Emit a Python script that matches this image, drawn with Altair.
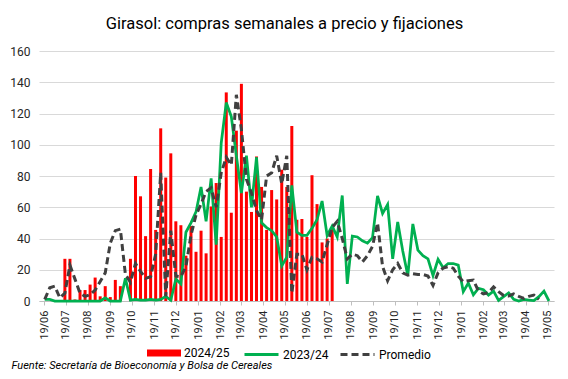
import altair as alt
import pandas as pd
from datetime import date, timedelta

# ---------------- data ----------------
series_names = ["2024/25", "2023/24", "Promedio"]
series_colors = ["#FF0000", "#00B050", "#404040"]

# weekly observations (week 0 = 20/06/2024)
first_week = date(2024, 6, 20)

# 2024/25 weekly purchases (bars), weeks 0..57
bars_2425 = [None, None, None, None, 27, 27, 1, 7, 7, 10.5,
             15, 3, 9.5, 2.5, 13.5, 9.5, 0, 27, 80, 67,
             41.5, 84.5, 45.5, 110.5, 79, 94.5, 51, 48.5, 29, 48,
             31.5, 45, 30.5, 60.5, 75.5, 41, 133.5, 56.5, 109, 139,
             70, 57, 92.5, 73, 45.5, 71, 65, 84, 73, 112,
             52, 52.5, 41, 80.5, 62, 37.5, 40, 47]

# 2023/24 weekly purchases (green line), weeks 0..100
line_2324 = [1, 1, 0, 0, 0, 0, 0, 0, 0, 0,
             0, 0, 2, 0, 0, 0, 14.5, 0.5, 1, 0.5,
             0.5, 1, 0.5, 1, 3, 0.5, 14, 11, 44, 50,
             57, 73, 51, 78.5, 36, 101, 127, 118, 93, 69,
             93, 60, 92, 50, 47, 45, 41, 22.5, 28, 74,
             44, 42, 42, 46.5, 52, 64, 42, 48, 41, 67.5,
             11, 41.5, 41, 38.5, 37, 40.5, 67.3, 56, 61.7, 27,
             50.6, 32, 16.3, 49.3, 32.6, 29, 27, 16.3, 26.7, 21.3,
             24, 24, 23, 6, 11.5, 4, 8.1, 7.2, 3.8, 6.3,
             0.4, 2.8, 5.2, 1, 0, 1, 0.6, 0.2, 2.8, 6.3,
             0]

# average (dashed line), weeks 0..98
line_prom = [1, 8.5, 9.5, 2, 5, 23, 14, 5, 3, 4,
             7, 12.5, 18, 37, 45, 46, 17, 12, 24, 19,
             14.5, 15.5, 30, 82, 3, 45, 16, 15.5, 22, 42,
             55, 62, 70, 72.5, 60, 82, 92, 87, 132, 110,
             78, 69, 58, 52, 80, 82, 93, 75, 93, 5,
             30, 30, 20, 28, 27, 25, 36, 47, 51, 40,
             27, 30, 29, 25, 29, 35, 50, 22, 13, 20,
             24, 18, 16.6, 17.5, 17, 17, 16, 10, 18, 21,
             22, 21, 16, 12.4, 13, 13.4, 6.5, 4.5, 5.5, 9,
             6, 3.5, 3.2, 4.5, 3, 1.7, 3, 3.8, 1]

# axis ticks: the 19th of each month, June 2024 .. May 2026
tick_months = [(2024, m) for m in range(6, 13)] + [(2025, m) for m in range(1, 13)] + [(2026, m) for m in range(1, 6)]

title_text = "Girasol: compras semanales a precio y fijaciones"
source_text = "Fuente: Secretaría de Bioeconomía y Bolsa de Cereales"


def week_date(i):
    return (first_week + timedelta(days=7 * i)).isoformat()


def to_frame(values, name):
    rows = [{"fecha": week_date(i), "valor": v, "serie": name}
            for i, v in enumerate(values) if v is not None]
    return pd.DataFrame(rows)


df_bars = to_frame(bars_2425, series_names[0])
df_green = to_frame(line_2324, series_names[1])
df_prom = to_frame(line_prom, series_names[2])

# ---------------- encodings ----------------
x_enc = alt.X(
    "fecha:T",
    scale=alt.Scale(domain=[alt.DateTime(year=2024, month=6, date=19),
                            alt.DateTime(year=2026, month=5, date=21)]),
    axis=alt.Axis(
        values=[alt.DateTime(year=y, month=m, date=19) for y, m in tick_months],
        format="%d/%m",
        labelAngle=270,
        labelFont="Roboto",
        labelFontSize=11,
        labelColor="#262626",
        labelPadding=5,
        labelOverlap=False,
        labelFlush=False,
        tickSize=4,
        tickColor="#BFBFBF",
        domainColor="#BFBFBF",
        grid=False,
        title=source_text,
        titleFont="Roboto",
        titleFontSize=11,
        titleFontStyle="italic",
        titleFontWeight="normal",
        titleColor="#000000",
        titleAnchor="start",
        titleAlign="left",
        titleBaseline="alphabetic",
        titleX=-28,
        titleY=67,
    ),
)

y_enc = alt.Y(
    "valor:Q",
    scale=alt.Scale(domain=[0, 160]),
    axis=alt.Axis(
        values=list(range(0, 161, 20)),
        grid=True,
        gridColor="#D9D9D9",
        domain=False,
        ticks=False,
        labelFont="Roboto",
        labelFontSize=12,
        labelColor="#262626",
        labelPadding=9,
        title=None,
    ),
)


def make_legend(x, **kw):
    return alt.Legend(
        title=None,
        orient="none",
        legendX=x,
        legendY=285,
        direction="horizontal",
        symbolSize=1156,
        labelFont="Roboto",
        labelFontSize=12,
        labelColor="#000000",
        labelOffset=3,
        **kw,
    )


bars = alt.Chart(df_bars).mark_bar(size=3).encode(
    x=x_enc, y=y_enc,
    fill=alt.Fill(
        "serie:N",
        scale=alt.Scale(domain=[series_names[0]], range=[series_colors[0]]),
        legend=make_legend(108, symbolType="M-1,-0.2H1V0.2H-1Z",
                           symbolStrokeWidth=0, symbolOpacity=1),
    ),
)

green = alt.Chart(df_green).mark_line(strokeWidth=2.75).encode(
    x=x_enc, y=y_enc,
    stroke=alt.Stroke(
        "serie:N",
        scale=alt.Scale(domain=[series_names[1]], range=[series_colors[1]]),
        legend=make_legend(204, symbolType="stroke", symbolStrokeWidth=3),
    ),
)

prom = alt.Chart(df_prom).mark_line(strokeWidth=3, strokeDash=[7, 4]).encode(
    x=x_enc, y=y_enc,
    stroke=alt.Stroke(
        "serie:N",
        scale=alt.Scale(domain=[series_names[2]], range=[series_colors[2]]),
        legend=make_legend(300, symbolType="stroke", symbolStrokeWidth=3,
                           symbolDash=[7, 4]),
    ),
)

chart = alt.layer(bars, green, prom).resolve_scale(
    stroke="independent"
).resolve_legend(
    stroke="independent"
).properties(
    width=515,
    height=250,
    autosize=alt.AutoSizeParams(type="none"),
    padding={"left": 31, "top": 43, "right": 6, "bottom": 70},
    title=alt.TitleParams(
        title_text,
        font="Roboto",
        fontSize=16.5,
        fontWeight="normal",
        color="#000000",
        anchor="middle",
        dx=-12,
        offset=13,
    ),
).configure_view(stroke=None)

chart.save("out.html", embed_options={"renderer": "svg", "actions": False})
